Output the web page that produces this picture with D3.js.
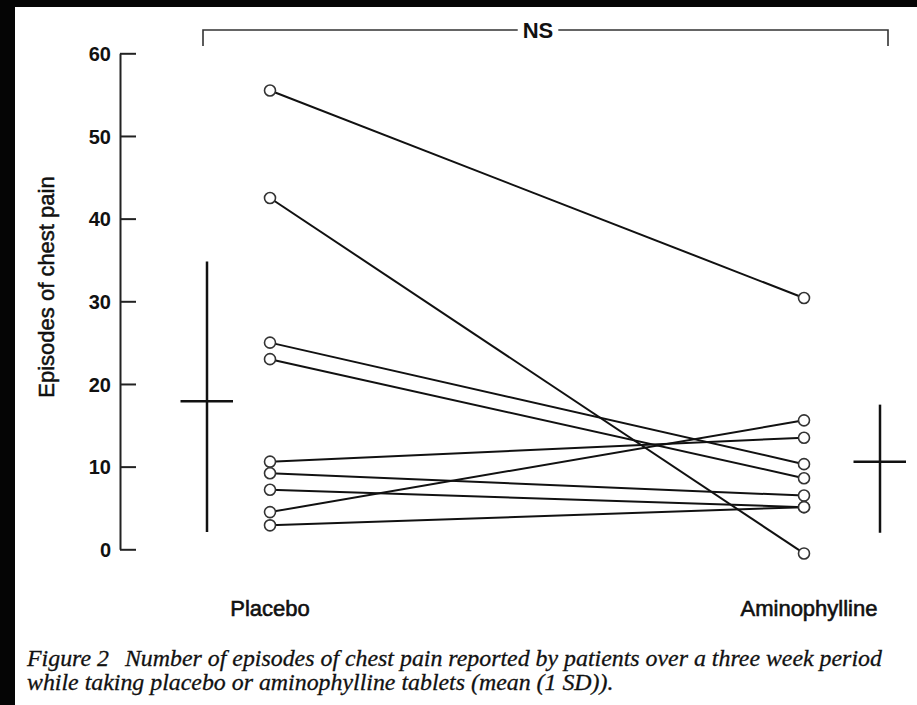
<!DOCTYPE html>
<html>
<head>
<meta charset="utf-8">
<script src="https://cdn.jsdelivr.net/npm/d3@7/dist/d3.min.js"></script>
<style>
  html, body { margin: 0; padding: 0; background: #050505; }
  svg { display: block; }
</style>
</head>
<body>
<svg id="chart" width="917" height="705"></svg>
<script>
// Treatment periods and each patient's episode count under both
const treatments = ["Placebo", "Aminophylline"];
const placeboEpisodes = [55.5, 42.5, 25.0, 23.0, 10.6, 9.2, 7.2, 4.5, 2.9];
const aminophyllineEpisodes = [30.4, -0.5, 10.3, 8.6, 13.5, 6.5, 5.1, 15.6, 5.1];

// Group mean with the 1 SD range drawn beside each column
const groupMean = [17.9, 10.6];
const groupLower = [2.1, 2.0];
const groupUpper = [34.8, 17.5];

const yTicks = [0, 10, 20, 30, 40, 50, 60];
const yTitle = "Episodes of chest pain";
const sigLabel = "NS";
const captionLead = "Figure 2";
const captionLine1 = "Number of episodes of chest pain reported by patients over a three week period";
const captionLine2 = "while taking placebo or aminophylline tablets (mean (1 SD)).";

const svg = d3.select("#chart");
const W = 917, H = 705;
const sans = "'Liberation Sans', Arial, sans-serif";

// paper area (scan edge leaves a dark strip on the left and top)
svg.append("rect").attr("x", 15).attr("y", 7).attr("width", W - 15).attr("height", H - 7).attr("fill", "#ffffff");

const y = d3.scaleLinear().domain([0, 60]).range([549.3, 53.3]);
const x = d3.scalePoint().domain(treatments).range([270, 804]);
const xSummary = d3.scalePoint().domain(treatments).range([207, 880]);

const ink = "#111";

// y axis with ticks pointing into the plot
const yAxis = d3.axisLeft(y).tickValues(yTicks).tickSizeInner(-16).tickSizeOuter(0).tickPadding(9);
const gy = svg.append("g").attr("transform", "translate(120,0)").call(yAxis);
gy.select(".domain").attr("stroke", "#222").attr("stroke-width", 2);
gy.selectAll(".tick line").attr("stroke", "#222").attr("stroke-width", 2);
gy.selectAll(".tick text")
  .attr("fill", ink)
  .attr("font-family", sans)
  .attr("font-weight", "bold")
  .attr("font-size", 20)
  .attr("dy", "0.36em");

svg.append("text")
  .attr("transform", "translate(54,287) rotate(-90)")
  .attr("text-anchor", "middle")
  .attr("font-family", sans)
  .attr("font-size", 22)
  .attr("fill", ink)
  .attr("stroke", ink).attr("stroke-width", 0.5)
  .text(yTitle);

// paired lines, patient by patient
const pairs = placeboEpisodes.map((v, i) => ({ a: v, b: aminophyllineEpisodes[i] }));
svg.append("g").selectAll("line").data(pairs).join("line")
  .attr("x1", x(treatments[0])).attr("y1", d => y(d.a))
  .attr("x2", x(treatments[1])).attr("y2", d => y(d.b))
  .attr("stroke", ink).attr("stroke-width", 2);

const points = [];
pairs.forEach(d => {
  points.push({ t: treatments[0], v: d.a });
  points.push({ t: treatments[1], v: d.b });
});
svg.append("g").selectAll("circle").data(points).join("circle")
  .attr("cx", d => x(d.t)).attr("cy", d => y(d.v)).attr("r", 5.5)
  .attr("fill", "#fff").attr("stroke", "#333").attr("stroke-width", 1.6);

// mean (1 SD) crosses
const summary = treatments.map((t, i) => ({ t, m: groupMean[i], lo: groupLower[i], hi: groupUpper[i] }));
const gs = svg.append("g").attr("stroke", ink).attr("stroke-width", 2.5);
gs.selectAll("line.sd").data(summary).join("line").attr("class", "sd")
  .attr("x1", d => xSummary(d.t)).attr("x2", d => xSummary(d.t))
  .attr("y1", d => y(d.hi)).attr("y2", d => y(d.lo));
gs.selectAll("line.mean").data(summary).join("line").attr("class", "mean")
  .attr("x1", d => xSummary(d.t) - 26.5).attr("x2", d => xSummary(d.t) + 26)
  .attr("y1", d => y(d.m)).attr("y2", d => y(d.m));

// treatment labels
svg.append("g").selectAll("text").data(treatments).join("text")
  .attr("x", (d, i) => x(d) + (i === 0 ? 0 : 5))
  .attr("y", 616)
  .attr("text-anchor", "middle")
  .attr("font-family", sans)
  .attr("font-size", 22)
  .attr("fill", ink)
  .attr("stroke", ink).attr("stroke-width", 0.6)
  .text(d => d);

// significance bracket
const bx0 = 203, bx1 = 888, by = 30, bDrop = 46;
const nsX = 538;
const nsText = svg.append("text")
  .attr("x", nsX).attr("y", by + 8)
  .attr("text-anchor", "middle")
  .attr("font-family", sans)
  .attr("font-weight", "bold")
  .attr("font-size", 22)
  .attr("fill", ink)
  .text(sigLabel);
const nsW = nsText.node().getComputedTextLength();
const gap = 5;
svg.append("path")
  .attr("d", `M${bx0},${bDrop}V${by}H${nsX - nsW / 2 - gap}M${nsX + nsW / 2 + gap},${by}H${bx1}V${bDrop}`)
  .attr("fill", "none").attr("stroke", "#333").attr("stroke-width", 1.6);

// caption, fitted to the text block width
const cap = svg.append("g")
  .attr("font-family", "'Liberation Serif', 'Times New Roman', serif")
  .attr("font-style", "italic")
  .attr("fill", ink)
  .attr("stroke", ink).attr("stroke-width", 0.3);
const capX = 27, capRight = 882, capGap = 16, base = 20;
const lead = cap.append("text").attr("x", capX).attr("y", 666).attr("font-size", base).text(captionLead);
const body1 = cap.append("text").attr("y", 666).attr("font-size", base).text(captionLine1);
const wLead = lead.node().getComputedTextLength();
const wBody = body1.node().getComputedTextLength();
const fs = base * (capRight - capX - capGap) / (wLead + wBody);
lead.attr("font-size", fs);
body1.attr("font-size", fs).attr("x", capX + wLead * fs / base + capGap);
cap.append("text").attr("x", capX).attr("y", 690).attr("font-size", fs).text(captionLine2);
</script>
</body>
</html>
